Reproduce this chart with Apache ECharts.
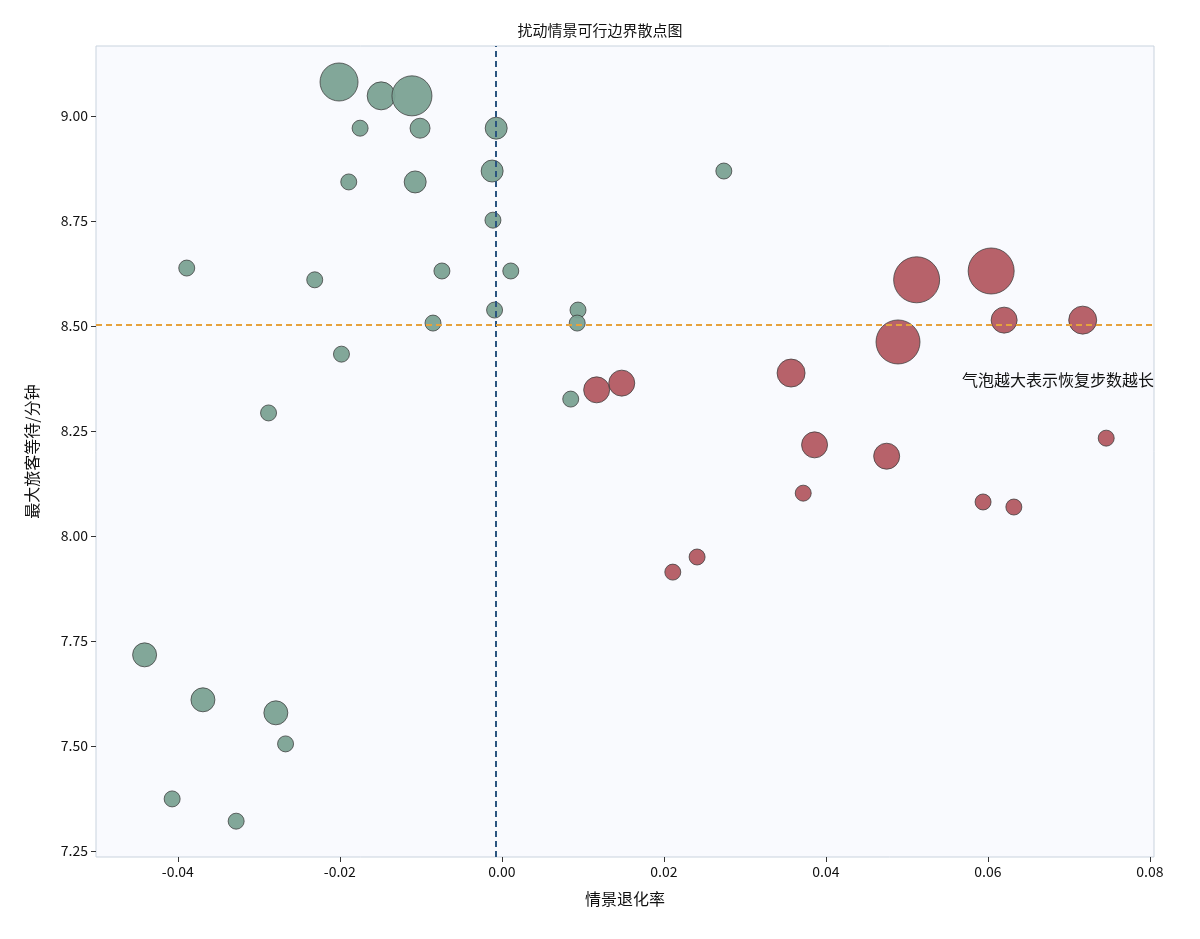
<!DOCTYPE html>
<html><head><meta charset="utf-8">
<script src="https://cdn.jsdelivr.net/npm/echarts@6/dist/echarts.min.js"></script>
<style>html,body{margin:0;padding:0;background:#fff}#c{width:1200px;height:939px}</style>
</head><body><div id="c"></div>
<script>
// [x, y, bubble diameter]
const greenPoints = [
[-0.0201,9.081,38],[-0.0149,9.048,28],[-0.0111,9.048,40],[-0.0175,8.971,16],[-0.0101,8.971,20],
[-0.0007,8.971,22],[-0.0189,8.843,16],[-0.0107,8.843,22],[-0.0012,8.869,22],[-0.0011,8.752,16],
[-0.0389,8.638,16],[-0.0231,8.610,16],[-0.0074,8.631,16],[0.0011,8.631,16],[0.0274,8.869,16],
[-0.0009,8.538,16],[0.0094,8.538,16],[0.0093,8.507,16],[-0.0085,8.507,16],[-0.0198,8.433,16],
[-0.0288,8.293,16],[0.0085,8.326,16],[-0.0441,7.717,24],[-0.0369,7.610,24],[-0.0279,7.579,24],
[-0.0267,7.505,16],[-0.0407,7.374,16],[-0.0328,7.321,16]
];
const redPoints = [
[0.0117,8.348,26],[0.0148,8.364,26],[0.0357,8.388,28],[0.0386,8.217,26],[0.0475,8.190,26],
[0.0372,8.102,16],[0.0211,7.914,16],[0.0241,7.950,16],[0.0512,8.610,46],[0.0604,8.631,46],
[0.0489,8.462,44],[0.0620,8.514,26],[0.0717,8.514,28],[0.0746,8.233,16],[0.0594,8.081,16],[0.0632,8.069,16]
];
const vLineX = -0.00074;
const hLineY = 8.503;
const xTicks = [-0.04,-0.02,0,0.02,0.04,0.06,0.08];
const yTicks = [7.25,7.5,7.75,8,8.25,8.5,8.75,9];
const xMin = -0.0501, xMax = 0.0805, yMin = 7.2357, yMax = 9.1667;

const font = '"Noto Sans CJK SC","Noto Sans",sans-serif';
const chart = echarts.init(document.getElementById('c'));
const itemStyle = c => ({color:c, opacity:0.95, borderColor:'#3a3a3a', borderWidth:0.8});
chart.setOption({
  animation:false,
  title:{text:'扰动情景可行边界散点图',left:'center',top:18,textStyle:{fontSize:15,fontWeight:'normal',color:'#111',fontFamily:font}},
  grid:{left:96,right:46,top:46,bottom:82,show:true,backgroundColor:'#f9fafe',borderColor:'#c9d3de',borderWidth:1},
  xAxis:{type:'value',min:xMin,max:xMax,name:'情景退化率',nameLocation:'middle',nameGap:34,
    nameTextStyle:{fontSize:16,color:'#111',fontFamily:font},
    splitLine:{show:false},axisLine:{show:false,onZero:false},
    axisLabel:{fontSize:14,color:'#111',fontFamily:font,customValues:xTicks,formatter:v=>v.toFixed(2)},
    axisTick:{show:true,customValues:xTicks,lineStyle:{color:'#333'}}},
  yAxis:{type:'value',min:yMin,max:yMax,name:'最大旅客等待/分钟',nameLocation:'middle',nameGap:56,
    nameTextStyle:{fontSize:16,color:'#111',fontFamily:font},
    splitLine:{show:false},axisLine:{show:false,onZero:false},
    axisLabel:{fontSize:14,color:'#111',fontFamily:font,customValues:yTicks,formatter:v=>v.toFixed(2)},
    axisTick:{show:true,customValues:yTicks,lineStyle:{color:'#333'}}},
  series:[
    {type:'scatter',data:greenPoints,symbolSize:d=>d[2],itemStyle:itemStyle('#7ba293'),
     markLine:{silent:true,symbol:'none',label:{show:false},
       data:[[{coord:[vLineX,yMin],lineStyle:{color:'#2b5580',type:[6,4],width:2}},{coord:[vLineX,yMax]}],
             [{coord:[xMin,hLineY],lineStyle:{color:'#e6a23c',type:[6,4],width:2}},{coord:[xMax,hLineY]}]]}},
    {type:'scatter',data:redPoints,symbolSize:d=>d[2],itemStyle:itemStyle('#b35a62')}
  ],
  graphic:[{type:'text',right:46,top:372,style:{text:'气泡越大表示恢复步数越长',fontSize:16,fill:'#111',fontFamily:font}}]
});
</script></body></html>
